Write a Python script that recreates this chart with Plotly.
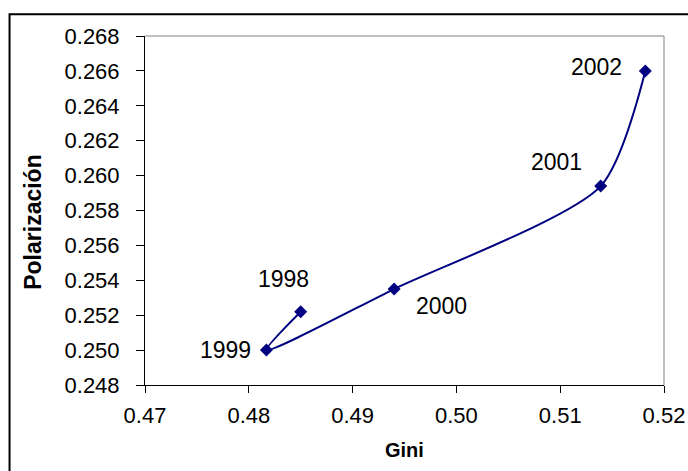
import plotly.graph_objects as go

# Gini vs. polarisation, one point per year
years = ["1998", "1999", "2000", "2001", "2002"]
gini = [0.4850, 0.4817, 0.4940, 0.5139, 0.5182]
polarizacion = [0.2522, 0.2500, 0.2535, 0.2594, 0.2660]

# label offsets (pixels) relative to each marker
label_dx = [-17, -41, 47, -44, -49]
label_dy = [33, 0, -17, 24, 4]

navy = "#000080"
font_family = "Arial, Liberation Sans, sans-serif"

fig = go.Figure()
fig.add_trace(go.Scatter(
    x=gini, y=polarizacion,
    mode="lines+markers",
    line=dict(color=navy, width=2, shape="spline", smoothing=0.7),
    marker=dict(symbol="diamond", size=10, color=navy),
    hoverinfo="x+y",
    showlegend=False,
))

for yr, gx, py, dx, dy in zip(years, gini, polarizacion, label_dx, label_dy):
    fig.add_annotation(
        x=gx, y=py, xref="x", yref="y", text=yr, showarrow=False,
        xanchor="center", yanchor="middle", xshift=dx, yshift=dy,
        font=dict(family=font_family, size=23, color="black"),
    )

# axis titles
fig.add_annotation(
    x=0.5, y=-0.185, xref="paper", yref="paper", text="<b>Gini</b>",
    showarrow=False, xanchor="center", yanchor="middle",
    font=dict(family=font_family, size=20, color="black"),
)
fig.add_annotation(
    x=-0.215, y=0.466, xref="paper", yref="paper", text="<b>Polarización</b>",
    showarrow=False, textangle=-90, xanchor="center", yanchor="middle",
    font=dict(family=font_family, size=23, color="black"),
)

# plot-area border (top and right) and the outer chart frame
fig.add_shape(type="line", xref="paper", yref="paper", x0=0, y0=1, x1=1, y1=1,
              line=dict(color="#808080", width=1))
fig.add_shape(type="line", xref="paper", yref="paper", x0=1, y0=0, x1=1, y1=1,
              line=dict(color="#808080", width=1))
fig.add_shape(type="rect", xref="paper", yref="paper",
              x0=-0.261, y0=-0.3, x1=1.2, y1=1.062,
              line=dict(color="black", width=2), layer="above")

fig.update_xaxes(
    range=[0.47, 0.52], dtick=0.01, tick0=0.47, tickformat=".2f",
    showgrid=False, zeroline=False, showline=True, linecolor="black", linewidth=1,
    ticks="outside", ticklen=7, tickcolor="black", ticklabelstandoff=4,
    tickfont=dict(family=font_family, size=22, color="black"),
    automargin=False,
)
fig.update_yaxes(
    range=[0.248, 0.268], dtick=0.002, tick0=0.248, tickformat=".3f",
    showgrid=False, zeroline=False, showline=True, linecolor="black", linewidth=1,
    ticks="outside", ticklen=8, tickcolor="black", ticklabelstandoff=12,
    tickfont=dict(family=font_family, size=22, color="black"),
    automargin=False,
)

fig.update_layout(
    width=688, height=471,
    margin=dict(l=145, r=24, t=36, b=86, autoexpand=False),
    paper_bgcolor="white", plot_bgcolor="white",
)

fig.write_html("out.html")
